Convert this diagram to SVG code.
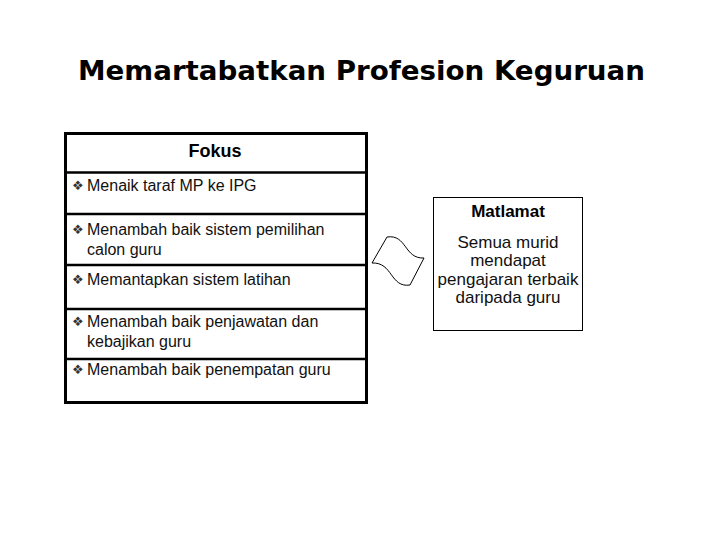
<svg xmlns="http://www.w3.org/2000/svg" width="720" height="540" viewBox="0 0 720 540">
<style>
.title{font-family:"DejaVu Sans",Verdana,sans-serif;font-weight:bold;font-size:26px;fill:#000}
.hdr{font-family:"Liberation Sans",Arial,sans-serif;font-weight:bold;font-size:18px;fill:#000;text-anchor:middle}
.item{font-family:"Liberation Sans",Arial,sans-serif;font-size:16px;fill:#111}
.bul{font-family:"DejaVu Sans",sans-serif;font-size:13px;fill:#333}
.goal{font-family:"Liberation Sans",Arial,sans-serif;font-size:17px;fill:#111;text-anchor:middle}
.thick{fill:none;stroke:#000;stroke-width:3}
.div{fill:none;stroke:#000;stroke-width:2.5}
.thin{fill:#fff;stroke:#000;stroke-width:1}
</style>
<rect width="720" height="540" fill="#fff"/>
<g id="title">
<text class="title" x="78" y="80" textLength="567" lengthAdjust="spacingAndGlyphs">Memartabatkan Profesion Keguruan</text>
</g>
<g id="fokus">
<rect class="thick" x="65.5" y="133.5" width="301" height="269"/>
<line class="div" x1="65" y1="172.5" x2="367" y2="172.5"/>
<line class="div" x1="65" y1="214" x2="367" y2="214"/>
<line class="div" x1="65" y1="265" x2="367" y2="265"/>
<line class="div" x1="65" y1="309" x2="367" y2="309"/>
<line class="div" x1="65" y1="359" x2="367" y2="359"/>
<text class="hdr" x="215" y="157">Fokus</text>
<text class="bul" x="72" y="190">❖</text>
<text class="item" x="87" y="191">Menaik taraf MP ke IPG</text>
<text class="bul" x="72" y="234">❖</text>
<text class="item" x="87" y="235">Menambah baik sistem pemilihan</text>
<text class="item" x="87" y="255">calon guru</text>
<text class="bul" x="72" y="284">❖</text>
<text class="item" x="87" y="285">Memantapkan sistem latihan</text>
<text class="bul" x="72" y="326">❖</text>
<text class="item" x="87" y="327">Menambah baik penjawatan dan</text>
<text class="item" x="87" y="347">kebajikan guru</text>
<text class="bul" x="72" y="374">❖</text>
<text class="item" x="87" y="375">Menambah baik penempatan guru</text>
</g>
<g id="connectors">
<path d="M372,263 L387,237 C407,234 404,259 424,258 L410,285 C390,288 393,262 372,263 Z" fill="#fff" stroke="#000" stroke-width="1"/>
</g>
<g id="matlamat">
<rect class="thin" x="433.5" y="197.5" width="149" height="133"/>
<text class="hdr" x="508" y="217" style="font-size:17px">Matlamat</text>
<text class="goal" x="508" y="248">Semua murid</text>
<text class="goal" x="508" y="266">mendapat</text>
<text class="goal" x="508" y="285">pengajaran terbaik</text>
<text class="goal" x="508" y="303">daripada guru</text>
</g>
</svg>
